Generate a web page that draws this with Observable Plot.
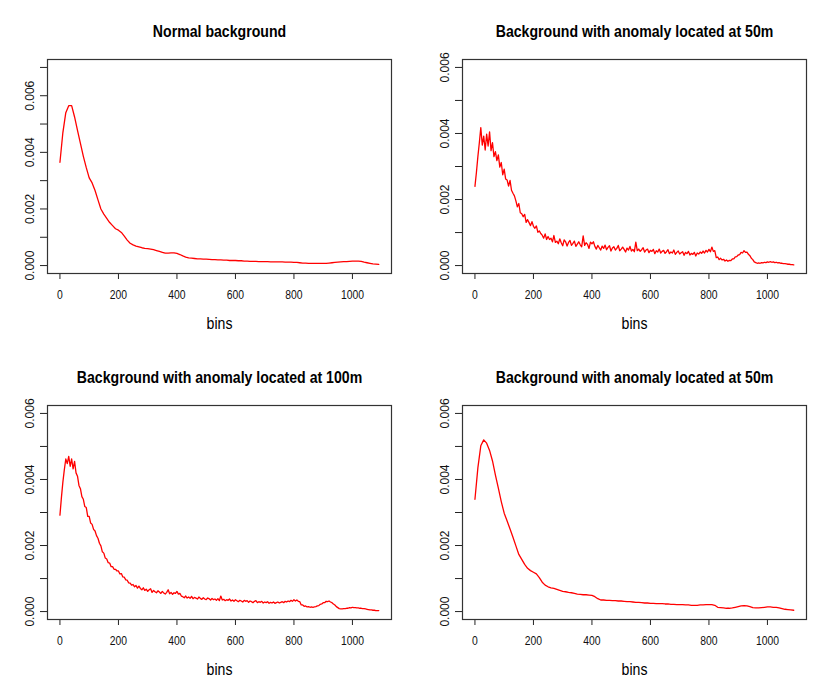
<!DOCTYPE html>
<html>
<head>
<meta charset="utf-8">
<script src="https://cdn.jsdelivr.net/npm/d3@7"></script>
<script src="https://cdn.jsdelivr.net/npm/@observablehq/plot@0.6"></script>
<style>
  html, body { margin: 0; padding: 0; background: #fff; }
  #grid { display: grid; grid-template-columns: 415px 415px; grid-template-rows: 346px 346px; width: 830px; height: 692px; }
  #grid svg { display: block; }
</style>
</head>
<body>
<div id="grid"></div>
<script>
// ---- data (bin index = position in array * step) ----
const titles = [
  "Normal background",
  "Background with anomaly located at 50m",
  "Background with anomaly located at 100m",
  "Background with anomaly located at 50m"
];
const xTicks = [0, 200, 400, 600, 800, 1000];
const xLabel = "bins";
const binRange = [1, 1090];
const yLimNormal = [0, 0.007];
const yLimAnomaly = [0, 0.006];
const yTicksNormal = [0, 0.001, 0.002, 0.003, 0.004, 0.005, 0.006, 0.007];
const yTicksAnomaly = [0, 0.001, 0.002, 0.003, 0.004, 0.005, 0.006];
const yLabelTicks = [0, 0.002, 0.004, 0.006];

const stepNormal = 10;
const normalBg = [
0.00365,0.00470,0.00540,0.00565,0.00565,0.00525,0.00478,0.00432,0.00386,0.00346,
0.00310,0.00292,0.00265,0.00232,0.00200,0.00182,0.00167,0.00152,0.00141,0.00130,
0.00125,0.00117,0.00104,0.00090,0.00079,0.00073,0.00069,0.00066,0.00063,0.00061,
0.00060,0.00058,0.00056,0.00053,0.00050,0.00047,0.00044,0.00044,0.00045,0.00045,
0.00043,0.00039,0.00034,0.00030,0.00027,0.00026,0.00025,0.00024,0.00024,0.00023,
0.00023,0.00022,0.00021,0.00021,0.00020,0.00020,0.00019,0.00019,0.00018,0.00018,
0.00018,0.00017,0.00017,0.00016,0.00016,0.00015,0.00015,0.00015,0.00014,0.00014,
0.00014,0.00014,0.00013,0.00013,0.00013,0.00013,0.00013,0.00012,0.00012,0.00012,
0.00011,0.00011,0.00010,0.00009,0.00009,0.00008,0.00008,0.00008,0.00008,0.00008,
0.00008,0.00008,0.00009,0.00010,0.00011,0.00012,0.00013,0.00014,0.00014,0.00015,
0.00016,0.00016,0.00016,0.00015,0.00012,0.00010,0.00008,0.00006,0.00005,0.00004
];

const stepAnom50 = 5;
const anomaly50 = [
0.00240,0.00282,0.00330,0.00372,0.00418,0.00365,0.00392,0.00350,0.00398,0.00362,
0.00405,0.00348,0.00372,0.00330,0.00345,0.00318,0.00335,0.00298,0.00312,0.00275,
0.00292,0.00262,0.00259,0.00241,0.00258,0.00228,0.00219,0.00211,0.00196,0.00178,
0.00188,0.00160,0.00157,0.00148,0.00155,0.00131,0.00139,0.00130,0.00121,0.00133,
0.00119,0.00113,0.00120,0.00101,0.00105,0.00097,0.00092,0.00083,0.00096,0.00079,
0.00088,0.00079,0.00083,0.00072,0.00091,0.00070,0.00074,0.00066,0.00081,0.00069,
0.00060,0.00078,0.00072,0.00059,0.00070,0.00076,0.00061,0.00067,0.00074,0.00058,
0.00065,0.00072,0.00063,0.00057,0.00090,0.00061,0.00069,0.00064,0.00052,0.00071,
0.00066,0.00072,0.00058,0.00050,0.00061,0.00054,0.00047,0.00059,0.00052,0.00062,
0.00048,0.00055,0.00060,0.00044,0.00053,0.00057,0.00047,0.00052,0.00061,0.00045,
0.00050,0.00056,0.00049,0.00041,0.00053,0.00047,0.00058,0.00044,0.00049,0.00042,
0.00071,0.00045,0.00050,0.00043,0.00048,0.00054,0.00041,0.00047,0.00050,0.00039,
0.00046,0.00043,0.00049,0.00036,0.00045,0.00041,0.00050,0.00038,0.00043,0.00046,
0.00037,0.00042,0.00048,0.00036,0.00041,0.00038,0.00047,0.00034,0.00040,0.00044,
0.00035,0.00039,0.00042,0.00031,0.00040,0.00036,0.00043,0.00032,0.00037,0.00034,
0.00040,0.00029,0.00038,0.00035,0.00041,0.00037,0.00044,0.00038,0.00046,0.00041,
0.00049,0.00042,0.00056,0.00043,0.00045,0.00024,0.00026,0.00018,0.00022,0.00017,
0.00019,0.00014,0.00017,0.00013,0.00016,0.00015,0.00020,0.00020,0.00026,0.00027,
0.00032,0.00033,0.00040,0.00038,0.00045,0.00040,0.00041,0.00034,0.00030,0.00022,
0.00018,0.00011,0.00009,0.00007,0.00008,0.00007,0.00009,0.00008,0.00010,0.00009,
0.00011,0.00010,0.00012,0.00010,0.00011,0.00009,0.00010,0.00008,0.00009,0.00007,
0.00007,0.00006,0.00006,0.00005,0.00004,0.00004,0.00003,0.00003,0.00002
];

const stepAnom100 = 5;
const anomaly100 = [
0.00292,0.00345,0.00392,0.00430,0.00462,0.00448,0.00470,0.00440,0.00462,0.00432,
0.00455,0.00420,0.00410,0.00382,0.00372,0.00348,0.00340,0.00318,0.00315,0.00288,
0.00288,0.00268,0.00264,0.00249,0.00244,0.00230,0.00222,0.00207,0.00199,0.00181,
0.00177,0.00162,0.00159,0.00148,0.00147,0.00136,0.00136,0.00128,0.00128,0.00123,
0.00123,0.00114,0.00115,0.00105,0.00104,0.00096,0.00095,0.00087,0.00086,0.00080,
0.00082,0.00075,0.00079,0.00071,0.00077,0.00070,0.00066,0.00072,0.00064,0.00068,
0.00061,0.00066,0.00069,0.00058,0.00064,0.00060,0.00057,0.00063,0.00059,0.00055,
0.00061,0.00056,0.00053,0.00058,0.00066,0.00054,0.00058,0.00052,0.00057,0.00055,
0.00061,0.00053,0.00055,0.00047,0.00045,0.00042,0.00047,0.00041,0.00044,0.00040,
0.00046,0.00039,0.00043,0.00041,0.00038,0.00044,0.00040,0.00037,0.00042,0.00038,
0.00036,0.00041,0.00039,0.00035,0.00040,0.00036,0.00038,0.00034,0.00039,0.00033,
0.00047,0.00035,0.00037,0.00033,0.00036,0.00034,0.00038,0.00032,0.00035,0.00031,
0.00036,0.00033,0.00030,0.00034,0.00032,0.00029,0.00034,0.00031,0.00033,0.00028,
0.00032,0.00030,0.00027,0.00031,0.00033,0.00027,0.00030,0.00028,0.00031,0.00026,
0.00029,0.00027,0.00030,0.00025,0.00028,0.00026,0.00029,0.00025,0.00027,0.00029,
0.00026,0.00028,0.00030,0.00027,0.00031,0.00029,0.00032,0.00030,0.00034,0.00031,
0.00036,0.00032,0.00035,0.00031,0.00030,0.00020,0.00020,0.00016,0.00017,0.00014,
0.00015,0.00013,0.00014,0.00013,0.00014,0.00015,0.00017,0.00018,0.00022,0.00023,
0.00027,0.00027,0.00031,0.00030,0.00032,0.00029,0.00027,0.00023,0.00020,0.00015,
0.00012,0.00009,0.00008,0.00008,0.00009,0.00009,0.00010,0.00010,0.00012,0.00011,
0.00013,0.00012,0.00012,0.00011,0.00011,0.00010,0.00010,0.00009,0.00009,0.00008,
0.00007,0.00006,0.00005,0.00005,0.00004,0.00004,0.00003,0.00003,0.00003
];

const stepAnom50b = 10;
const anomaly50b = [
0.00340,0.00435,0.00502,0.00520,0.00510,0.00488,0.00456,0.00413,0.00374,0.00333,
0.00298,0.00274,0.00250,0.00225,0.00199,0.00173,0.00158,0.00143,0.00131,0.00124,
0.00119,0.00114,0.00103,0.00089,0.00080,0.00075,0.00072,0.00070,0.00067,0.00064,
0.00061,0.00060,0.00058,0.00057,0.00055,0.00053,0.00052,0.00051,0.00051,0.00050,
0.00049,0.00045,0.00039,0.00035,0.00035,0.00034,0.00034,0.00033,0.00033,0.00032,
0.00032,0.00031,0.00030,0.00030,0.00029,0.00028,0.00028,0.00027,0.00026,0.00026,
0.00025,0.00025,0.00024,0.00024,0.00024,0.00023,0.00023,0.00022,0.00022,0.00021,
0.00021,0.00021,0.00020,0.00020,0.00019,0.00019,0.00019,0.00020,0.00020,0.00021,
0.00021,0.00021,0.00019,0.00013,0.00012,0.00011,0.00010,0.00010,0.00011,0.00013,
0.00015,0.00017,0.00018,0.00017,0.00015,0.00012,0.00011,0.00011,0.00012,0.00013,
0.00014,0.00014,0.00013,0.00013,0.00011,0.00009,0.00007,0.00006,0.00005,0.00004
];

// ---- drawing ----
const regular = "'Liberation Sans', Arial, Helvetica, sans-serif";
const condenseFactor = 0.83; // reference text is horizontally compressed

function expand(lim) {
  const d = (lim[1] - lim[0]) * 0.04;
  return [lim[0] - d, lim[1] + d];
}

// narrow horizontal texts without touching their position (needs the svg in the DOM)
function condense(svg) {
  svg.querySelectorAll("text").forEach(el => {
    const t = el.getAttribute("transform") || "";
    if (t.includes("rotate")) return;
    const len = el.getComputedTextLength();
    if (!(len > 0)) return;
    el.setAttribute("textLength", (len * condenseFactor).toFixed(2));
    el.setAttribute("lengthAdjust", "spacingAndGlyphs");
  });
}

function panel(title, values, step, yLim, yTicks) {
  const data = values.map((v, i) => ({bin: i * step, v}));
  return Plot.plot({
    width: 415,
    height: 346,
    marginLeft: 47,
    marginRight: 24,
    marginTop: 59,
    marginBottom: 73,
    style: {fontFamily: regular, fontSize: "12px", color: "#000", background: "#fff", overflow: "visible"},
    x: {domain: expand(binRange)},
    y: {domain: expand(yLim)},
    marks: [
      Plot.axisX({ticks: xTicks, tickSize: 6, tickPadding: 11, tickFormat: d => String(d), label: null, fontSize: 12.5, stroke: "#222", fill: "#111"}),
      Plot.axisY({ticks: yTicks, tickSize: 7, tickFormat: () => "", label: null, stroke: "#222"}),
      Plot.text(yLabelTicks, {
        y: d => d, frameAnchor: "left", dx: -17, rotate: -90,
        text: d => d.toFixed(3), textAnchor: "middle", lineAnchor: "middle",
        fontSize: 12, fontFamily: regular, fill: "#111"
      }),
      Plot.line(data, {x: "bin", y: "v", stroke: "#ff0000", strokeWidth: 1.3}),
      Plot.frame({stroke: "#333", strokeWidth: 1.2}),
      Plot.text([title], {frameAnchor: "top", dy: -23, lineAnchor: "bottom", fontWeight: "bold", fontSize: 17, fontFamily: regular, fill: "#000"}),
      Plot.text([xLabel], {frameAnchor: "bottom", dy: 55, lineAnchor: "bottom", fontSize: 17, fontFamily: regular, fill: "#000"})
    ]
  });
}

const grid = document.getElementById("grid");
const svgs = [
  panel(titles[0], normalBg, stepNormal, yLimNormal, yTicksNormal),
  panel(titles[1], anomaly50, stepAnom50, yLimAnomaly, yTicksAnomaly),
  panel(titles[2], anomaly100, stepAnom100, yLimAnomaly, yTicksAnomaly),
  panel(titles[3], anomaly50b, stepAnom50b, yLimAnomaly, yTicksAnomaly)
];
grid.append(...svgs);
svgs.forEach(condense);
</script>
</body>
</html>
